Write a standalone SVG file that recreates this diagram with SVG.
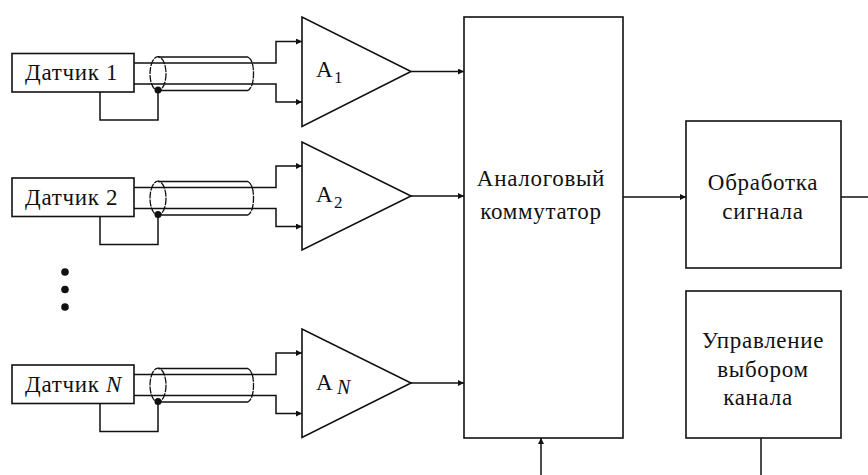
<svg xmlns="http://www.w3.org/2000/svg" width="868" height="475" viewBox="0 0 868 475">
<style>
text{font-family:"Liberation Serif","Times New Roman",serif;font-size:23px;letter-spacing:.7px;fill:#111}
.m{text-anchor:middle}
.s{font-size:17px;letter-spacing:0}
.n{font-size:20px;letter-spacing:0;font-style:italic}
.i{font-style:italic}
.b{fill:#fff;stroke:#111;stroke-width:1.6}
.w{fill:none;stroke:#111;stroke-width:1.5}
.d{fill:none;stroke:#111;stroke-width:1.3;stroke-dasharray:7 1}
</style>
<defs>
<marker id="a" markerWidth="7" markerHeight="7" refX="6" refY="3" orient="auto" markerUnits="userSpaceOnUse"><path d="M0 0L6 3L0 6Z" fill="#111"/></marker>
<g id="cable">
<path class="w" d="M134 63H276V41.500H302" marker-end="url(#a)"/>
<path class="w" d="M134 84H276V102H302" marker-end="url(#a)"/>
<path class="w" d="M100 92V120H158V90"/>
<path class="w" d="M158 57H248M158 90.500H248"/>
<path class="d" d="M248 57Q253.500 60 253.500 73.700Q253.500 87 248 90.500"/>
<ellipse class="d" cx="158" cy="73.700" rx="8" ry="17"/>
<circle cx="158" cy="90" r="3.500" fill="#111"/>
</g>
</defs>
<g id="connectors">
<use href="#cable"/>
<use href="#cable" y="124.500"/>
<use href="#cable" y="311.500"/>
<path class="w" d="M411 71.500H464" marker-end="url(#a)"/>
<path class="w" d="M411 196H464" marker-end="url(#a)"/>
<path class="w" d="M411 383H464" marker-end="url(#a)"/>
<path class="w" d="M623 197H686" marker-end="url(#a)"/>
<path class="w" d="M841 197H868"/>
<path class="w" d="M761 438V475"/>
<path class="w" d="M541 475V438" marker-end="url(#a)"/>
</g>
<g id="sensor1"><rect class="b" x="12" y="53.500" width="122" height="38.500"/><text x="25" y="80">Датчик 1</text></g>
<g id="sensor2"><rect class="b" x="12" y="178" width="122" height="38.500"/><text x="25" y="205">Датчик 2</text></g>
<g id="sensorN"><rect class="b" x="12" y="365" width="122" height="38.500"/><text x="25" y="392">Датчик <tspan class="i">N</tspan></text></g>
<g id="amp1"><path class="b" d="M302 17V126.500L411 71.500Z"/><text x="316" y="77">A</text><text class="s" x="334" y="83">1</text></g>
<g id="amp2"><path class="b" d="M302 142V250L411 196Z"/><text x="316" y="202">A</text><text class="s" x="334" y="208">2</text></g>
<g id="ampN"><path class="b" d="M302 329V437.500L411 383Z"/><text x="316" y="390">A</text><text class="n" x="337" y="394">N</text></g>
<g id="mux"><rect class="b" x="464" y="17" width="159" height="421"/><text class="m" x="541" y="186">Аналоговый</text><text class="m" x="541" y="219">коммутатор</text></g>
<g id="processing"><rect class="b" x="686" y="121" width="155" height="147"/><text class="m" x="763" y="190">Обработка</text><text class="m" x="763" y="219">сигнала</text></g>
<g id="control"><rect class="b" x="686" y="291" width="155" height="147"/><text class="m" x="763" y="348">Управление</text><text class="m" x="763" y="377">выбором</text><text class="m" x="758" y="405">канала</text></g>
<g id="ellipsis" fill="#111"><circle cx="65" cy="272" r="3.800"/><circle cx="65" cy="289.500" r="3.800"/><circle cx="65" cy="307" r="3.800"/></g>
</svg>
